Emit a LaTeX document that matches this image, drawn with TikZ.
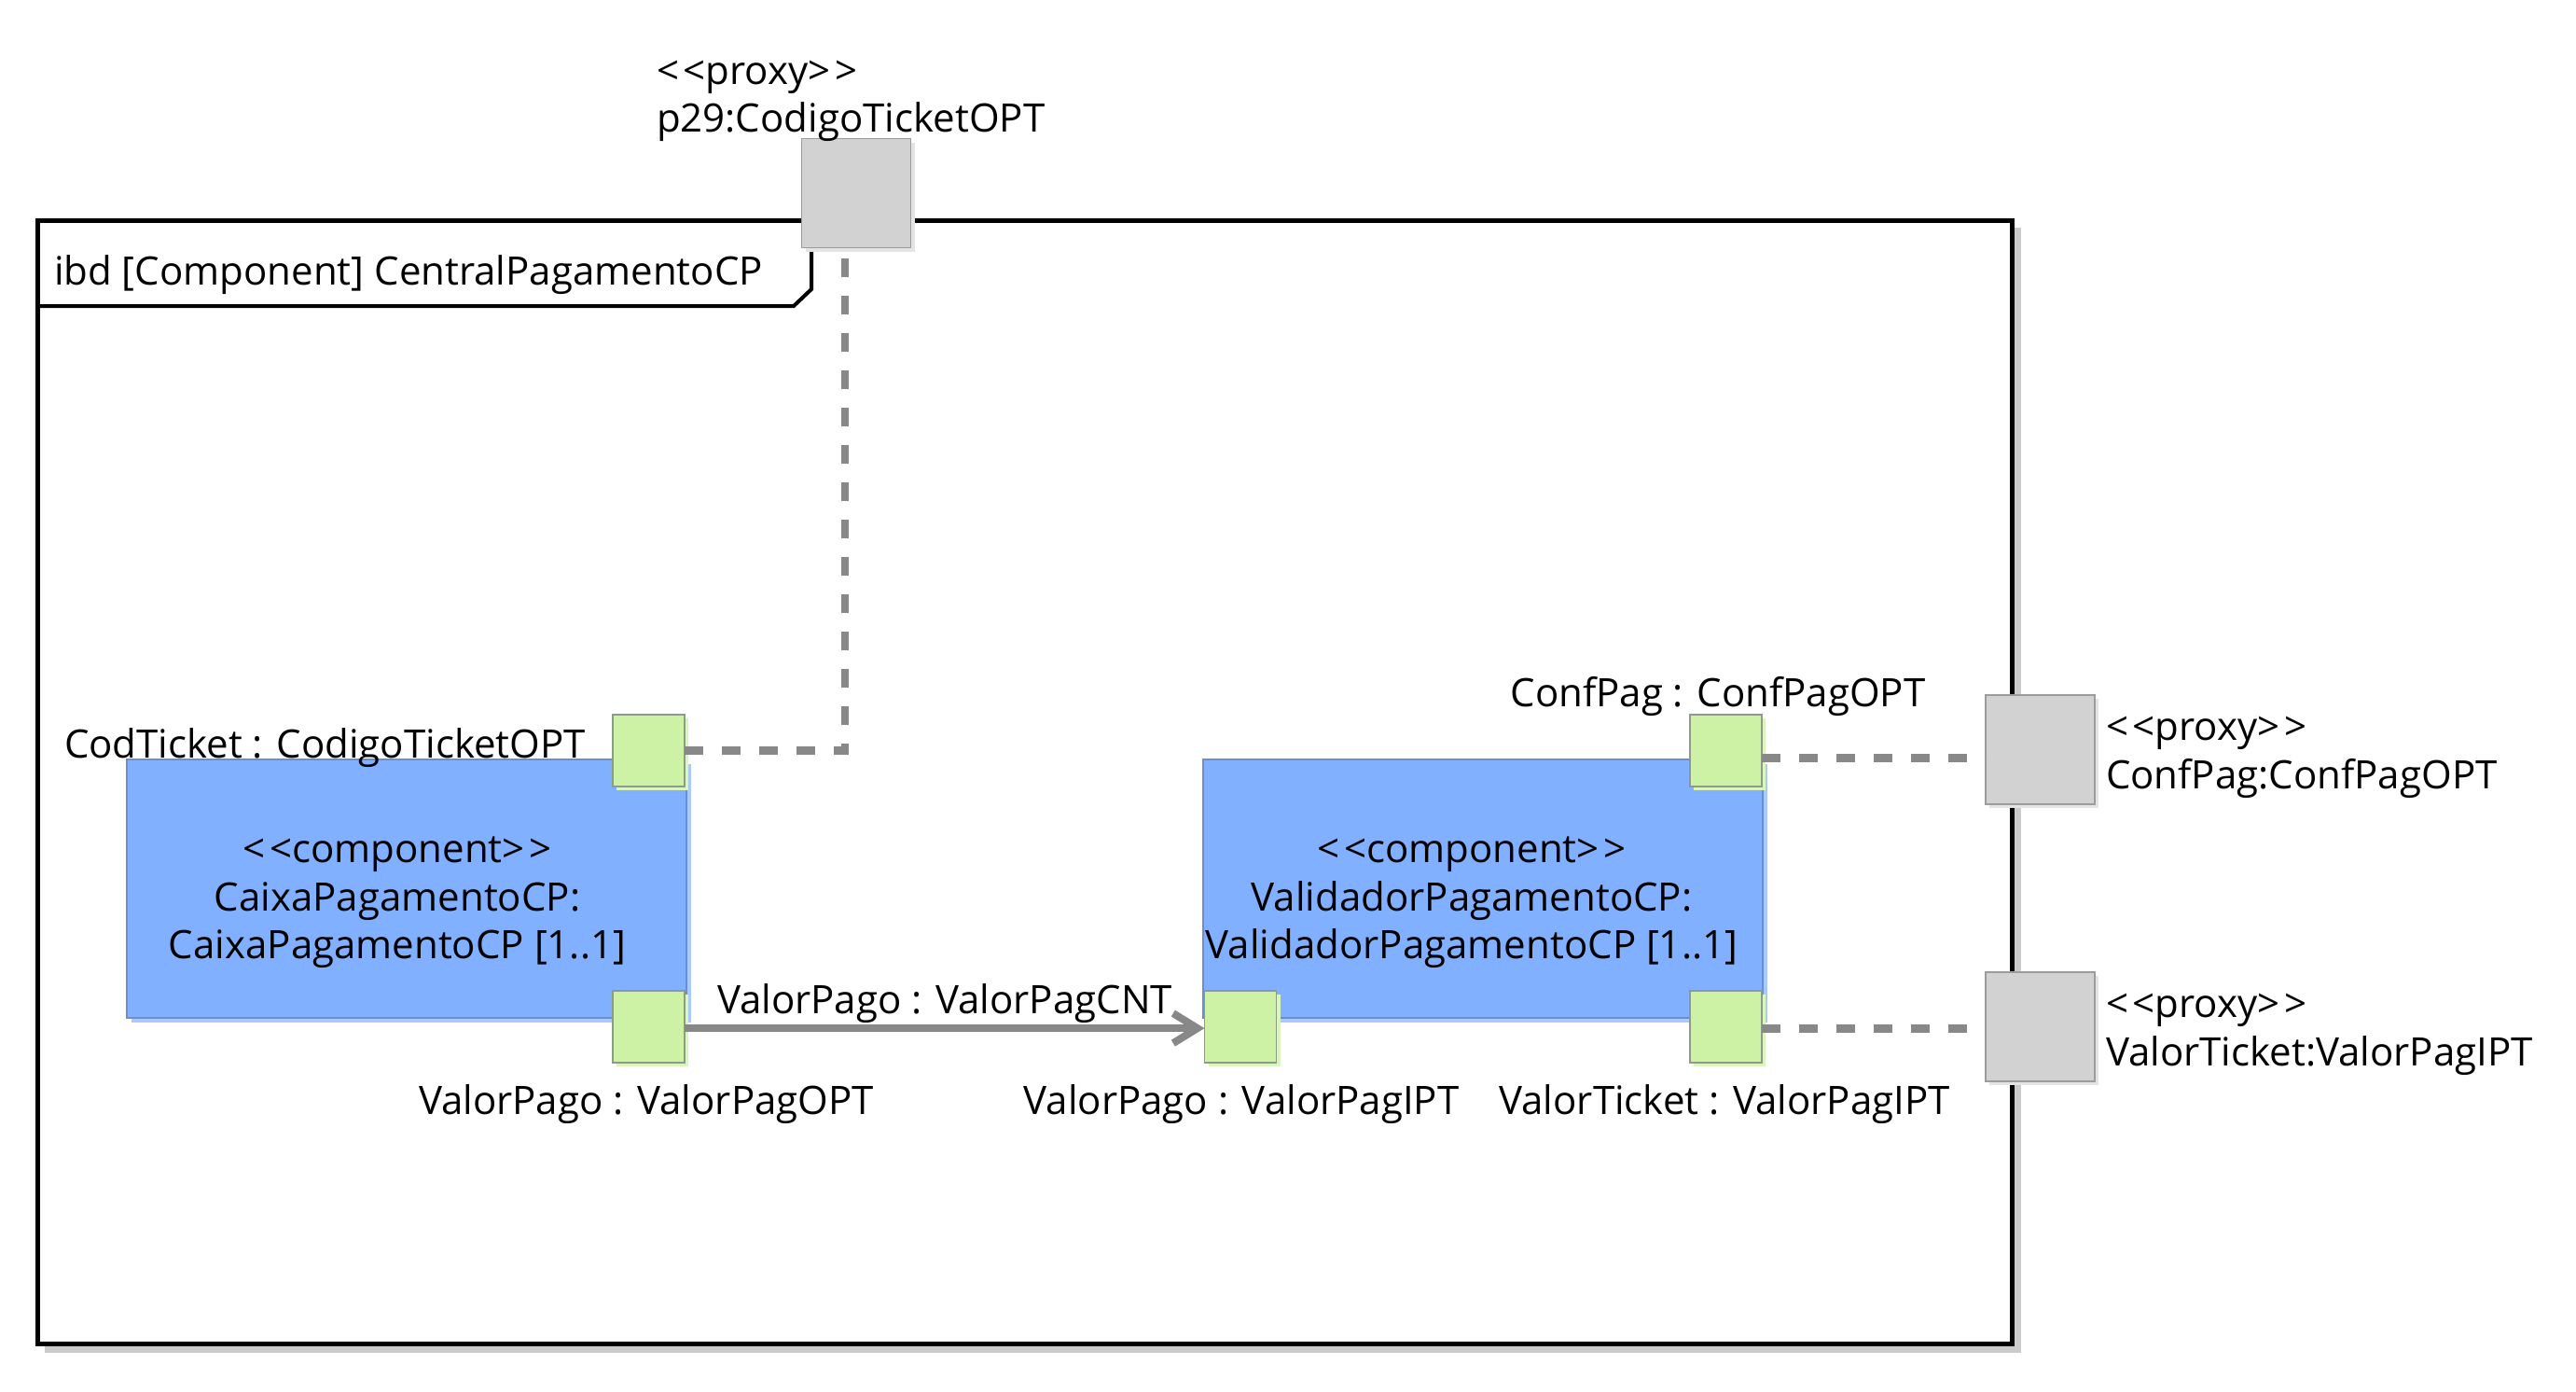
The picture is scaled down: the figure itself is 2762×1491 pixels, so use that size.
\documentclass[tikz,border=0pt]{standalone}
\usepackage{fontspec}
\setmainfont{Open Sans}
\usetikzlibrary{arrows.meta,shadows,calc}
\definecolor{blueF}{HTML}{80B0FF}
\definecolor{blueD}{HTML}{6A8FD0}
\definecolor{blueS}{HTML}{A9C9FF}
\definecolor{greenF}{HTML}{CDF2A6}
\definecolor{greenD}{HTML}{8E9C86}
\definecolor{greenS}{HTML}{D9F7BC}
\definecolor{proxF}{HTML}{D2D2D2}
\definecolor{proxD}{HTML}{9C9C9C}
\definecolor{proxS}{HTML}{E4E4E4}
\definecolor{conn}{HTML}{888888}
\definecolor{frameS}{HTML}{CBCBCB}
\newcommand{\stl}{<\kern1.2pt<}
\newcommand{\str}{>\kern1.2pt>}
\begin{document}
\begin{tikzpicture}[x=0.25pt,y=-0.25pt,
  every node/.style={font=\fontsize{10.5pt}{12.75pt}\selectfont, inner sep=0pt, outer sep=0pt},
  proxybox/.style={draw=proxD, fill=proxF, line width=0.4pt, minimum width=29.25pt, minimum height=29.25pt,
    drop shadow={shadow xshift=1pt, shadow yshift=-1pt, fill=proxS, opacity=1}},
  portbox/.style={draw=greenD, fill=greenF, line width=0.35pt, minimum width=19.25pt, minimum height=19.25pt,
    drop shadow={shadow xshift=1pt, shadow yshift=-1pt, fill=greenS, opacity=1}},
  compbox/.style={draw=blueD, fill=blueF, line width=0.35pt, minimum width=150pt, minimum height=69.25pt,
    drop shadow={shadow xshift=1.2pt, shadow yshift=-1.2pt, fill=blueS, opacity=1}},
  lbl/.style={anchor=base west},
  clbl/.style={anchor=base},
  dashconn/.style={draw=conn, line width=2.2pt, dash pattern=on 5pt off 5pt},
  flowconn/.style={draw=conn, line width=2pt, -{Straight Barb[length=6.5pt,width=8pt]}}
]
\useasboundingbox (0,0) rectangle (2762,1491);
% frame
\fill[frameS] (48,244) rectangle (2167,1450);
\draw[line width=1.25pt, fill=white] (40,236) rectangle (2157,1440);
\draw[line width=1pt] (870,236) -- (870,310) -- (851,328) -- (40,328);
\node[lbl] (title) at (58,305) {ibd [Component] CentralPagamentoCP};

% components
\node[compbox] (caixa) at (436,952.5) {};
\node[compbox] (valid) at (1590,952.5) {};
\node[clbl] (c1a) at (426,924) {\stl component\str};
\node[clbl] (c1b) at (426,976) {CaixaPagamentoCP:};
\node[clbl] (c1c) at (426,1027) {CaixaPagamentoCP [1..1]};
\node[clbl] (c2a) at (1578,924) {\stl component\str};
\node[clbl] (c2b) at (1578,976) {ValidadorPagamentoCP:};
\node[clbl] (c2c) at (1578,1027) {ValidadorPagamentoCP [1..1]};

% ports
\node[portbox] (cod) at (695.5,804.5) {};
\node[portbox] (cvp) at (695.5,1100.5) {};
\node[portbox] (vvp) at (1330,1100.5) {};
\node[portbox] (conf) at (1850.5,804.5) {};
\node[portbox] (vt) at (1850.5,1100.5) {};

% proxies
\node[proxybox] (p29) at (918,207) {};
\node[proxybox] (pconf) at (2187.5,803.5) {};
\node[proxybox] (pvt) at (2187.5,1100.5) {};

% connectors
\draw[dashconn] (cod.east) -| ($(p29.south)+(-12,0)$);
\draw[dashconn] ([yshift=-2pt]conf.east) -- ([yshift=-2.25pt]pconf.west);
\draw[dashconn] ([yshift=-0.4pt]vt.east) -- ([yshift=-0.4pt]pvt.west);
\draw[flowconn] ([yshift=-0.4pt]cvp.east) -- ([yshift=-0.4pt]vvp.west);

% labels
\node[lbl] (l29a) at (704,90) {\stl proxy\str};
\node[lbl] (l29b) at (704,141) {p29:CodigoTicketOPT};
\node[lbl] (lcod) at (69,812) {CodTicket : CodigoTicketOPT};
\node[clbl] (lcvp) at (693,1194) {ValorPago : ValorPagOPT};
\node[clbl] (lcnt) at (1013,1086) {ValorPago : ValorPagCNT};
\node[clbl] (lvvp) at (1331,1194) {ValorPago : ValorPagIPT};
\node[clbl] (lvt) at (1849,1194) {ValorTicket : ValorPagIPT};
\node[clbl] (lconf) at (1842,757) {ConfPag : ConfPagOPT};
\node[lbl] (lpc1) at (2258,793) {\stl proxy\str};
\node[lbl] (lpc2) at (2258,845) {ConfPag:ConfPagOPT};
\node[lbl] (lpv1) at (2258,1090) {\stl proxy\str};
\node[lbl] (lpv2) at (2258,1142) {ValorTicket:ValorPagIPT};
\end{tikzpicture}
\end{document}
